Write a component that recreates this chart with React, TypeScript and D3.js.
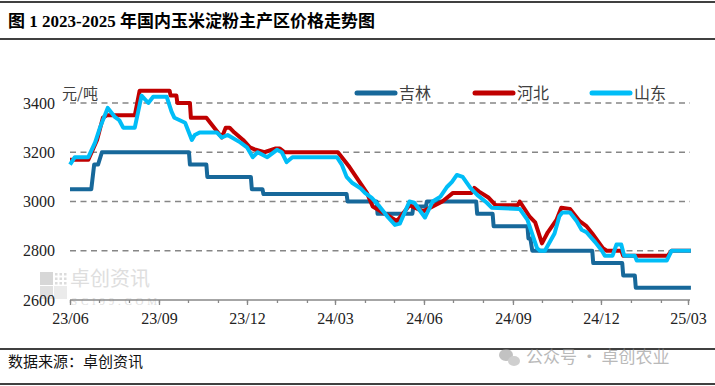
import React, { useEffect, useRef } from 'react';
import * as d3 from 'd3';

const W = 715, H = 386;

const yTicks = [2600, 2800, 3000, 3200, 3400];
const seriesNames = ['吉林', '河北', '山东'];
const seriesColors = ['#17689A', '#C00000', '#00BDF7'];

// [date, 元/吨]
const jilin: [string, number][] = [
  ['2023-06-01', 3050], ['2023-06-23', 3050], ['2023-06-26', 3150], ['2023-06-30', 3150], ['2023-07-04', 3200],
  ['2023-10-02', 3200], ['2023-10-03', 3150], ['2023-10-20', 3150], ['2023-10-21', 3100], ['2023-12-05', 3100],
  ['2023-12-06', 3050], ['2023-12-17', 3050], ['2023-12-18', 3030], ['2024-03-13', 3030], ['2024-03-14', 3000],
  ['2024-04-13', 3000], ['2024-04-14', 2950], ['2024-05-20', 2950], ['2024-05-21', 2980], ['2024-06-03', 2980],
  ['2024-06-04', 3000], ['2024-07-25', 3000], ['2024-07-26', 2950], ['2024-08-11', 2950], ['2024-08-12', 2900],
  ['2024-09-16', 2900], ['2024-09-17', 2850], ['2024-09-19', 2850], ['2024-09-21', 2800], ['2024-11-22', 2800],
  ['2024-11-23', 2750], ['2024-12-23', 2750], ['2024-12-24', 2700], ['2025-01-05', 2700], ['2025-01-06', 2650],
  ['2025-03-04', 2650],
];

const hebei: [string, number][] = [
  ['2023-06-01', 3170], ['2023-06-20', 3170], ['2023-06-29', 3250], ['2023-07-05', 3340], ['2023-07-09', 3350],
  ['2023-08-07', 3350], ['2023-08-12', 3450], ['2023-09-12', 3450], ['2023-09-13', 3430], ['2023-09-19', 3430],
  ['2023-09-20', 3400], ['2023-10-03', 3400], ['2023-10-04', 3340], ['2023-10-20', 3340], ['2023-11-05', 3260],
  ['2023-11-09', 3300], ['2023-11-13', 3300], ['2023-11-18', 3280], ['2023-11-27', 3250], ['2023-12-04', 3220],
  ['2023-12-10', 3210], ['2023-12-19', 3200], ['2023-12-30', 3215], ['2024-01-04', 3215], ['2024-01-09', 3200],
  ['2024-03-04', 3200], ['2024-03-16', 3140], ['2024-04-03', 3035], ['2024-04-09', 2980], ['2024-04-24', 2945],
  ['2024-05-04', 2920], ['2024-05-17', 2985], ['2024-05-31', 2960], ['2024-06-10', 2980], ['2024-06-20', 3000],
  ['2024-07-01', 3035], ['2024-07-20', 3035], ['2024-07-23', 3055], ['2024-07-28', 3040], ['2024-08-07', 3015],
  ['2024-08-14', 2985], ['2024-09-06', 2985], ['2024-09-08', 3000], ['2024-09-18', 2940], ['2024-09-24', 2915],
  ['2024-10-01', 2830], ['2024-10-07', 2875], ['2024-10-16', 2925], ['2024-10-21', 2975], ['2024-10-30', 2970],
  ['2024-11-09', 2920], ['2024-11-16', 2900], ['2024-11-22', 2870], ['2024-12-03', 2810], ['2024-12-07', 2800],
  ['2024-12-22', 2800], ['2024-12-24', 2780], ['2025-02-08', 2780], ['2025-02-12', 2800], ['2025-03-04', 2800],
];

const shandong: [string, number][] = [
  ['2023-06-01', 3150], ['2023-06-06', 3180], ['2023-06-20', 3180], ['2023-06-27', 3240], ['2023-07-02', 3300],
  ['2023-07-10', 3380], ['2023-07-17', 3345], ['2023-07-22', 3330], ['2023-07-26', 3300], ['2023-08-07', 3300],
  ['2023-08-14', 3430], ['2023-08-21', 3400], ['2023-08-26', 3425], ['2023-09-09', 3425], ['2023-09-14', 3365],
  ['2023-09-17', 3340], ['2023-09-28', 3320], ['2023-10-05', 3250], ['2023-10-08', 3270], ['2023-10-13', 3280],
  ['2023-10-31', 3280], ['2023-11-05', 3260], ['2023-11-11', 3270], ['2023-11-24', 3240], ['2023-12-01', 3220],
  ['2023-12-07', 3180], ['2023-12-12', 3200], ['2023-12-22', 3180], ['2024-01-01', 3210], ['2024-01-06', 3200],
  ['2024-01-11', 3160], ['2024-01-17', 3180], ['2024-03-03', 3180], ['2024-03-08', 3150], ['2024-03-13', 3100],
  ['2024-03-19', 3075], ['2024-03-27', 3055], ['2024-04-01', 3035], ['2024-04-08', 3015], ['2024-04-16', 2980],
  ['2024-04-25', 2935], ['2024-05-02', 2905], ['2024-05-07', 2910], ['2024-05-17', 3000], ['2024-05-22', 2995],
  ['2024-06-02', 2935], ['2024-06-10', 3000], ['2024-06-18', 3020], ['2024-06-25', 3060], ['2024-06-30', 3080],
  ['2024-07-05', 3108], ['2024-07-11', 3100], ['2024-07-19', 3055], ['2024-07-26', 3027], ['2024-08-05', 2995],
  ['2024-08-10', 2975], ['2024-09-08', 2970], ['2024-09-16', 2925], ['2024-09-22', 2855], ['2024-09-26', 2810],
  ['2024-09-29', 2800], ['2024-10-04', 2800], ['2024-10-14', 2870], ['2024-10-19', 2940], ['2024-10-22', 2955],
  ['2024-10-30', 2955], ['2024-11-06', 2920], ['2024-11-11', 2885], ['2024-11-16', 2875], ['2024-11-25', 2835],
  ['2024-12-02', 2800], ['2024-12-05', 2780], ['2024-12-13', 2780], ['2024-12-17', 2825], ['2024-12-22', 2825],
  ['2024-12-25', 2780], ['2025-01-05', 2780], ['2025-01-07', 2760], ['2025-02-07', 2760], ['2025-02-12', 2800],
  ['2025-03-04', 2800],
];

const seriesData = [jilin, hebei, shandong];

const cjk = '"Noto Sans CJK SC", sans-serif';
const num = '"Liberation Serif", "Noto Sans CJK SC", serif';

export default function App() {
  const ref = useRef<SVGSVGElement>(null);

  useEffect(() => {
    const svg = d3.select(ref.current);
    svg.selectAll('*').remove();

    const parse = d3.timeParse('%Y-%m-%d');
    const x = d3.scaleTime()
      .domain([new Date(2023, 5, 1), new Date(2025, 2, 1)])
      .range([70, 688]);
    const y = d3.scaleLinear().domain([2600, 3400]).range([300, 103]);

    // title block
    svg.append('line').attr('x1', 0).attr('x2', W).attr('y1', 2).attr('y2', 2)
      .attr('stroke', '#000').attr('stroke-width', 1.5);
    svg.append('line').attr('x1', 0).attr('x2', W).attr('y1', 39).attr('y2', 39)
      .attr('stroke', '#000').attr('stroke-width', 1.5);
    svg.append('text').attr('x', 8).attr('y', 27)
      .attr('font-family', num).attr('font-weight', 'bold').attr('font-size', 17)
      .text('图 1 2023-2025 年国内玉米淀粉主产区价格走势图');

    // watermark inside the plot
    const wm = svg.append('g').attr('opacity', 0.55);
    wm.append('rect').attr('x', 40).attr('y', 272).attr('width', 13).attr('height', 13).attr('fill', '#b8b8b8');
    wm.append('rect').attr('x', 40).attr('y', 286).attr('width', 13).attr('height', 13).attr('fill', '#c8c8c8');
    wm.append('rect').attr('x', 54).attr('y', 286).attr('width', 13).attr('height', 13).attr('fill', '#dcdcdc');
    for (let i = 0; i < 3; i++) for (let j = 0; j < 3; j++) {
      wm.append('rect').attr('x', 55 + i * 4.5).attr('y', 273 + j * 4.5).attr('width', 2.5).attr('height', 2.5).attr('fill', '#c0c0c0');
    }
    wm.append('text').attr('x', 70).attr('y', 286).attr('font-family', cjk).attr('font-size', 20)
      .attr('fill', '#c4c4c4').text('卓创资讯');
    wm.append('text').attr('x', 71).attr('y', 305).attr('font-family', num).attr('font-size', 11)
      .attr('fill', '#c4c4c4').attr('textLength', 86).text('SCI99.COM');

    // grid
    svg.append('g').selectAll('line')
      .data(yTicks.filter(v => v > 2600))
      .join('line')
      .attr('x1', 70).attr('x2', 690)
      .attr('y1', d => y(d)).attr('y2', d => y(d))
      .attr('stroke', '#868686').attr('stroke-width', 1.5)
      .attr('stroke-dasharray', '6,4.5');

    // y labels
    svg.append('g').selectAll('text')
      .data(yTicks)
      .join('text')
      .attr('x', 55).attr('y', d => y(d))
      .attr('dy', '0.35em')
      .attr('text-anchor', 'end')
      .attr('font-family', num).attr('font-size', 16).attr('fill', '#222')
      .text(d => d);

    // x axis
    const minor = d3.axisBottom(x)
      .tickValues(d3.timeMonth.range(new Date(2023, 5, 1), new Date(2025, 2, 2)))
      .tickSize(3).tickFormat(() => '');
    const gMinor = svg.append('g').attr('transform', 'translate(0,300)').call(minor);
    gMinor.select('.domain').remove();
    gMinor.selectAll('line').attr('stroke', '#888').attr('stroke-width', 1.3);

    const major = d3.axisBottom(x)
      .tickValues(d3.timeMonth.range(new Date(2023, 5, 1), new Date(2025, 2, 2), 3))
      .tickSize(5).tickPadding(8)
      .tickFormat(d => d3.timeFormat('%y/%m')(d as Date));
    const gMajor = svg.append('g').attr('transform', 'translate(0,300)').call(major);
    gMajor.select('.domain').attr('stroke', '#888').attr('stroke-width', 1.5)
      .attr('d', 'M70,0H690');
    gMajor.selectAll('line').attr('stroke', '#888').attr('stroke-width', 1.3);
    gMajor.selectAll('text').attr('font-family', num).attr('font-size', 16).attr('fill', '#222');

    // unit
    svg.append('text').attr('x', 62).attr('y', 99)
      .attr('font-family', cjk).attr('font-size', 15).attr('fill', '#404040').text('元/吨');

    // series
    const line = d3.line<[string, number]>()
      .x(d => x(parse(d[0]) as Date))
      .y(d => y(d[1]));
    svg.append('g').selectAll('path')
      .data(seriesData)
      .join('path')
      .attr('d', d => line(d))
      .attr('fill', 'none')
      .attr('stroke', (_, i) => seriesColors[i])
      .attr('stroke-width', 4)
      .attr('stroke-linejoin', 'round');

    // legend
    const legendX = [357, 475, 592];
    const lg = svg.append('g').selectAll('g')
      .data(seriesNames)
      .join('g')
      .attr('transform', (_, i) => `translate(${legendX[i]},93)`);
    lg.append('line').attr('x1', 0).attr('x2', 38)
      .attr('stroke', (_, i) => seriesColors[i]).attr('stroke-width', 5).attr('stroke-linecap', 'round');
    lg.append('text').attr('x', 42).attr('dy', '0.36em')
      .attr('font-family', cjk).attr('font-size', 16).attr('fill', '#404040')
      .text(d => d);

    // footer
    svg.append('line').attr('x1', 0).attr('x2', W).attr('y1', 349).attr('y2', 349)
      .attr('stroke', '#000').attr('stroke-width', 1.5);
    svg.append('line').attr('x1', 0).attr('x2', W).attr('y1', 384).attr('y2', 384)
      .attr('stroke', '#000').attr('stroke-width', 1.5);
    svg.append('text').attr('x', 8).attr('y', 367)
      .attr('font-family', cjk).attr('font-size', 15).attr('fill', '#111')
      .text('数据来源：卓创资讯');

    const wx = svg.append('g').attr('opacity', 0.6);
    wx.append('ellipse').attr('cx', 506).attr('cy', 355).attr('rx', 7).attr('ry', 6).attr('fill', '#9a9a9a');
    wx.append('ellipse').attr('cx', 514).attr('cy', 361).attr('rx', 6).attr('ry', 5).attr('fill', '#b0b0b0');
    wx.append('text').attr('x', 526).attr('y', 363)
      .attr('font-family', cjk).attr('font-size', 17).attr('fill', '#8c8c8c')
      .text('公众号 · 卓创农业');
  }, []);

  return (
    <svg ref={ref} width={W} height={H}
      style={{ position: 'absolute', left: 0, top: 0, background: '#fff' }} />
  );
}
